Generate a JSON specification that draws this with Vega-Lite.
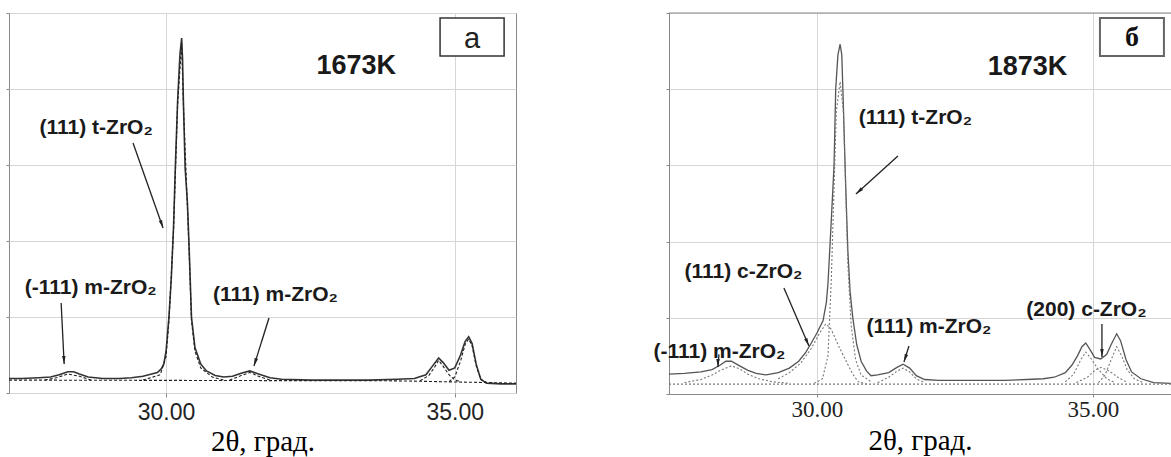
{
  "$schema": "https://vega.github.io/schema/vega-lite/v6.json",
  "padding": {"left": 5, "top": 12, "right": 0, "bottom": 0},
  "background": "white",
  "bounds": "flush",
  "spacing": 153,
  "config": {
    "view": {"stroke": "#888", "strokeWidth": 1},
    "axis": {"gridColor": "#d6d6d6", "tickColor": "#888", "domainColor": "#888"}
  },
  "datasets": {
    "spec1": [
      {"x": 27.28, "y": 0.19}, {"x": 27.5, "y": 0.19}, {"x": 27.8, "y": 0.2}, {"x": 28.0, "y": 0.21},
      {"x": 28.15, "y": 0.24}, {"x": 28.3, "y": 0.28}, {"x": 28.4, "y": 0.28}, {"x": 28.5, "y": 0.25},
      {"x": 28.65, "y": 0.21}, {"x": 28.9, "y": 0.19}, {"x": 29.2, "y": 0.19}, {"x": 29.4, "y": 0.2},
      {"x": 29.6, "y": 0.22}, {"x": 29.75, "y": 0.25}, {"x": 29.85, "y": 0.27}, {"x": 29.92, "y": 0.32},
      {"x": 29.96, "y": 0.38}, {"x": 30.0, "y": 0.55}, {"x": 30.05, "y": 1.0}, {"x": 30.09, "y": 1.5},
      {"x": 30.13, "y": 2.2}, {"x": 30.16, "y": 2.96}, {"x": 30.2, "y": 3.84}, {"x": 30.24, "y": 4.45},
      {"x": 30.27, "y": 4.67}, {"x": 30.285, "y": 4.4}, {"x": 30.3, "y": 3.84}, {"x": 30.33, "y": 2.96},
      {"x": 30.37, "y": 2.5}, {"x": 30.4, "y": 1.9}, {"x": 30.44, "y": 1.0}, {"x": 30.5, "y": 0.6},
      {"x": 30.6, "y": 0.38}, {"x": 30.7, "y": 0.29}, {"x": 30.85, "y": 0.23}, {"x": 31.0, "y": 0.21},
      {"x": 31.15, "y": 0.22}, {"x": 31.3, "y": 0.26}, {"x": 31.45, "y": 0.29}, {"x": 31.6, "y": 0.25},
      {"x": 31.8, "y": 0.2}, {"x": 32.0, "y": 0.18}, {"x": 32.5, "y": 0.17}, {"x": 33.0, "y": 0.17},
      {"x": 33.5, "y": 0.17}, {"x": 34.0, "y": 0.18}, {"x": 34.3, "y": 0.19}, {"x": 34.5, "y": 0.24},
      {"x": 34.62, "y": 0.36}, {"x": 34.72, "y": 0.46}, {"x": 34.8, "y": 0.4}, {"x": 34.9, "y": 0.3},
      {"x": 35.0, "y": 0.33}, {"x": 35.1, "y": 0.5}, {"x": 35.18, "y": 0.68}, {"x": 35.24, "y": 0.74},
      {"x": 35.3, "y": 0.65}, {"x": 35.37, "y": 0.38}, {"x": 35.45, "y": 0.18}, {"x": 35.55, "y": 0.13},
      {"x": 35.8, "y": 0.12}, {"x": 36.06, "y": 0.12}
    ],
    "fit1": [
      {"c": "base", "x": 27.28, "y": 0.17}, {"c": "base", "x": 34.0, "y": 0.16}, {"c": "base", "x": 36.06, "y": 0.13},
      {"c": "t", "x": 29.6, "y": 0.17}, {"c": "t", "x": 29.9, "y": 0.24}, {"c": "t", "x": 30.0, "y": 0.48},
      {"c": "t", "x": 30.05, "y": 0.95}, {"c": "t", "x": 30.13, "y": 2.15}, {"c": "t", "x": 30.2, "y": 3.8},
      {"c": "t", "x": 30.27, "y": 4.6}, {"c": "t", "x": 30.3, "y": 3.8}, {"c": "t", "x": 30.4, "y": 1.85},
      {"c": "t", "x": 30.44, "y": 0.95}, {"c": "t", "x": 30.5, "y": 0.55}, {"c": "t", "x": 30.6, "y": 0.33},
      {"c": "t", "x": 30.8, "y": 0.21}, {"c": "t", "x": 31.0, "y": 0.17},
      {"c": "m1", "x": 27.9, "y": 0.17}, {"c": "m1", "x": 28.1, "y": 0.2}, {"c": "m1", "x": 28.3, "y": 0.25},
      {"c": "m1", "x": 28.5, "y": 0.22}, {"c": "m1", "x": 28.7, "y": 0.17},
      {"c": "m2", "x": 31.1, "y": 0.17}, {"c": "m2", "x": 31.3, "y": 0.23}, {"c": "m2", "x": 31.45, "y": 0.27},
      {"c": "m2", "x": 31.6, "y": 0.22}, {"c": "m2", "x": 31.8, "y": 0.17},
      {"c": "p1", "x": 34.4, "y": 0.16}, {"c": "p1", "x": 34.55, "y": 0.23}, {"c": "p1", "x": 34.65, "y": 0.34},
      {"c": "p1", "x": 34.72, "y": 0.43}, {"c": "p1", "x": 34.8, "y": 0.35}, {"c": "p1", "x": 34.9, "y": 0.24},
      {"c": "p1", "x": 35.0, "y": 0.17}, {"c": "p1", "x": 35.1, "y": 0.15},
      {"c": "p2", "x": 34.9, "y": 0.15}, {"c": "p2", "x": 35.0, "y": 0.21}, {"c": "p2", "x": 35.1, "y": 0.42},
      {"c": "p2", "x": 35.18, "y": 0.64}, {"c": "p2", "x": 35.24, "y": 0.71}, {"c": "p2", "x": 35.3, "y": 0.62},
      {"c": "p2", "x": 35.37, "y": 0.36}, {"c": "p2", "x": 35.45, "y": 0.18}, {"c": "p2", "x": 35.55, "y": 0.14}
    ],
    "spec2": [
      {"x": 27.32, "y": 0.26}, {"x": 27.6, "y": 0.27}, {"x": 27.9, "y": 0.29}, {"x": 28.1, "y": 0.32},
      {"x": 28.25, "y": 0.38}, {"x": 28.35, "y": 0.43}, {"x": 28.45, "y": 0.43}, {"x": 28.6, "y": 0.37},
      {"x": 28.75, "y": 0.31}, {"x": 28.9, "y": 0.27}, {"x": 29.08, "y": 0.25}, {"x": 29.3, "y": 0.28},
      {"x": 29.5, "y": 0.34}, {"x": 29.67, "y": 0.43}, {"x": 29.8, "y": 0.55}, {"x": 29.89, "y": 0.66},
      {"x": 30.0, "y": 0.8}, {"x": 30.11, "y": 0.96}, {"x": 30.17, "y": 1.2}, {"x": 30.2, "y": 1.45},
      {"x": 30.25, "y": 2.14}, {"x": 30.31, "y": 3.0}, {"x": 30.34, "y": 4.0}, {"x": 30.38, "y": 4.45},
      {"x": 30.42, "y": 4.59}, {"x": 30.45, "y": 4.45}, {"x": 30.47, "y": 4.0}, {"x": 30.51, "y": 3.0},
      {"x": 30.53, "y": 2.53}, {"x": 30.56, "y": 1.88}, {"x": 30.6, "y": 1.35}, {"x": 30.65, "y": 1.0},
      {"x": 30.72, "y": 0.65}, {"x": 30.8, "y": 0.43}, {"x": 30.9, "y": 0.3}, {"x": 30.98, "y": 0.24},
      {"x": 31.1, "y": 0.25}, {"x": 31.3, "y": 0.28}, {"x": 31.45, "y": 0.35}, {"x": 31.56, "y": 0.39},
      {"x": 31.68, "y": 0.34}, {"x": 31.8, "y": 0.24}, {"x": 31.95, "y": 0.19}, {"x": 32.2, "y": 0.18},
      {"x": 32.6, "y": 0.18}, {"x": 33.0, "y": 0.18}, {"x": 33.4, "y": 0.18}, {"x": 33.8, "y": 0.19},
      {"x": 34.1, "y": 0.2}, {"x": 34.3, "y": 0.22}, {"x": 34.5, "y": 0.28}, {"x": 34.62, "y": 0.38},
      {"x": 34.72, "y": 0.5}, {"x": 34.8, "y": 0.62}, {"x": 34.87, "y": 0.67}, {"x": 34.95, "y": 0.58},
      {"x": 35.03, "y": 0.48}, {"x": 35.14, "y": 0.46}, {"x": 35.25, "y": 0.52}, {"x": 35.33, "y": 0.65},
      {"x": 35.43, "y": 0.79}, {"x": 35.5, "y": 0.7}, {"x": 35.6, "y": 0.45}, {"x": 35.7, "y": 0.29},
      {"x": 35.87, "y": 0.2}, {"x": 36.1, "y": 0.15}, {"x": 36.41, "y": 0.14}
    ],
    "fit2": [
      {"c": "base", "x": 27.32, "y": 0.13}, {"c": "base", "x": 36.41, "y": 0.13},
      {"c": "m1", "x": 27.6, "y": 0.15}, {"c": "m1", "x": 27.9, "y": 0.19}, {"c": "m1", "x": 28.1, "y": 0.25},
      {"c": "m1", "x": 28.25, "y": 0.31}, {"c": "m1", "x": 28.45, "y": 0.37}, {"c": "m1", "x": 28.6, "y": 0.33},
      {"c": "m1", "x": 28.75, "y": 0.26}, {"c": "m1", "x": 28.95, "y": 0.2}, {"c": "m1", "x": 29.2, "y": 0.16},
      {"c": "m1", "x": 29.5, "y": 0.14},
      {"c": "c1", "x": 29.3, "y": 0.2}, {"c": "c1", "x": 29.5, "y": 0.28}, {"c": "c1", "x": 29.7, "y": 0.4},
      {"c": "c1", "x": 29.9, "y": 0.6}, {"c": "c1", "x": 30.05, "y": 0.8}, {"c": "c1", "x": 30.16, "y": 0.92},
      {"c": "c1", "x": 30.25, "y": 0.86}, {"c": "c1", "x": 30.4, "y": 0.62}, {"c": "c1", "x": 30.55, "y": 0.4},
      {"c": "c1", "x": 30.65, "y": 0.26}, {"c": "c1", "x": 30.75, "y": 0.16}, {"c": "c1", "x": 30.9, "y": 0.13},
      {"c": "t", "x": 29.95, "y": 0.14}, {"c": "t", "x": 30.1, "y": 0.2}, {"c": "t", "x": 30.2, "y": 0.5},
      {"c": "t", "x": 30.26, "y": 1.5}, {"c": "t", "x": 30.31, "y": 2.7}, {"c": "t", "x": 30.35, "y": 3.7},
      {"c": "t", "x": 30.42, "y": 4.1}, {"c": "t", "x": 30.48, "y": 3.7}, {"c": "t", "x": 30.52, "y": 2.7},
      {"c": "t", "x": 30.56, "y": 1.7}, {"c": "t", "x": 30.62, "y": 0.9}, {"c": "t", "x": 30.7, "y": 0.45},
      {"c": "t", "x": 30.8, "y": 0.25}, {"c": "t", "x": 31.0, "y": 0.15},
      {"c": "m2", "x": 31.1, "y": 0.15}, {"c": "m2", "x": 31.3, "y": 0.22}, {"c": "m2", "x": 31.45, "y": 0.3},
      {"c": "m2", "x": 31.56, "y": 0.34}, {"c": "m2", "x": 31.68, "y": 0.29}, {"c": "m2", "x": 31.8, "y": 0.2},
      {"c": "m2", "x": 31.95, "y": 0.15},
      {"c": "p1", "x": 34.5, "y": 0.16}, {"c": "p1", "x": 34.65, "y": 0.26}, {"c": "p1", "x": 34.78, "y": 0.45},
      {"c": "p1", "x": 34.87, "y": 0.55}, {"c": "p1", "x": 34.95, "y": 0.48}, {"c": "p1", "x": 35.1, "y": 0.32},
      {"c": "p1", "x": 35.25, "y": 0.2}, {"c": "p1", "x": 35.4, "y": 0.15},
      {"c": "c2", "x": 34.7, "y": 0.15}, {"c": "c2", "x": 34.9, "y": 0.22}, {"c": "c2", "x": 35.05, "y": 0.32},
      {"c": "c2", "x": 35.15, "y": 0.35}, {"c": "c2", "x": 35.3, "y": 0.3}, {"c": "c2", "x": 35.45, "y": 0.22},
      {"c": "c2", "x": 35.6, "y": 0.16},
      {"c": "p3", "x": 35.1, "y": 0.15}, {"c": "p3", "x": 35.22, "y": 0.25}, {"c": "p3", "x": 35.33, "y": 0.45},
      {"c": "p3", "x": 35.43, "y": 0.62}, {"c": "p3", "x": 35.52, "y": 0.5}, {"c": "p3", "x": 35.62, "y": 0.32},
      {"c": "p3", "x": 35.75, "y": 0.2}, {"c": "p3", "x": 35.9, "y": 0.15}
    ],
    "arrows1": [
      {"x": 29.428, "y": 3.289, "x2": 29.948, "y2": 2.171, "a": 160.6},
      {"x": 28.183, "y": 1.184, "x2": 28.235, "y2": 0.382, "a": 177.2},
      {"x": 31.782, "y": 0.987, "x2": 31.522, "y2": 0.355, "a": 197.4}
    ],
    "arrows2": [
      {"x": 31.467, "y": 3.123, "x2": 30.707, "y2": 2.625, "a": 227.9},
      {"x": 29.402, "y": 1.391, "x2": 29.855, "y2": 0.63, "a": 156.7},
      {"x": 28.225, "y": 0.52, "x2": 28.207, "y2": 0.354, "a": 180},
      {"x": 31.667, "y": 0.63, "x2": 31.576, "y2": 0.42, "a": 198.4},
      {"x": 35.163, "y": 0.919, "x2": 35.163, "y2": 0.486, "a": 180}
    ],
    "labels1": [
      {"x": 28.789, "y": 3.408, "t": "(111) t-ZrO₂"},
      {"x": 28.694, "y": 1.303, "t": "(-111) m-ZrO₂"},
      {"x": 31.894, "y": 1.21, "t": "(111) m-ZrO₂"}
    ],
    "labels2": [
      {"x": 31.784, "y": 3.543, "t": "(111) t-ZrO₂"},
      {"x": 28.668, "y": 1.522, "t": "(111) c-ZrO₂"},
      {"x": 28.234, "y": 0.472, "t": "(-111) m-ZrO₂"},
      {"x": 32.029, "y": 0.8, "t": "(111) m-ZrO₂"},
      {"x": 34.882, "y": 1.024, "t": "(200) c-ZrO₂"}
    ],
    "temp1": [{"x": 33.294, "y": 4.197, "t": "1673K"}],
    "temp2": [{"x": 33.813, "y": 4.186, "t": "1873K"}],
    "box1": [{"x": 34.745, "x2": 35.854, "y": 4.934, "y2": 4.434}],
    "box2": [{"x": 35.127, "x2": 36.286, "y": 4.934, "y2": 4.436}],
    "tag1": [{"x": 35.3, "y": 4.54, "t": "a"}],
    "tag2": [{"x": 35.707, "y": 4.567, "t": "б"}],
    "one": [{}]
  },
  "hconcat": [
    {
      "width": 507,
      "height": 380,
      "layer": [
        {
          "data": {"name": "spec1"},
          "mark": {"type": "line", "color": "#333", "strokeWidth": 1.6},
          "encoding": {
            "x": {"field": "x", "type": "quantitative", "scale": {"domain": [27.28, 36.06], "nice": false, "zero": false},
              "axis": {"values": [30, 35], "format": ".2f", "labelFont": "Liberation Sans", "labelFontSize": 23, "labelColor": "#222",
                "grid": true, "tickSize": 4, "labelPadding": 4, "domain": false,
                "title": "2θ, град.", "titleFont": "Liberation Serif", "titleFontSize": 29, "titleFontWeight": "normal", "titleColor": "#000",
                "titleBaseline": "alphabetic", "titleY": 57}},
            "y": {"field": "y", "type": "quantitative", "scale": {"domain": [0, 5], "nice": false, "zero": false},
              "axis": {"values": [0, 1, 2, 3, 4, 5], "labels": false, "tickSize": 3, "domain": false, "grid": true, "title": null}}
          }
        },
        {
          "data": {"name": "fit1"},
          "mark": {"type": "line", "color": "#222", "strokeWidth": 1.1, "strokeDash": [3, 2]},
          "encoding": {
            "x": {"field": "x", "type": "quantitative", "scale": {"domain": [27.28, 36.06], "nice": false, "zero": false}},
            "y": {"field": "y", "type": "quantitative", "scale": {"domain": [0, 5], "nice": false, "zero": false}},
            "detail": {"field": "c"}
          }
        },
        {
          "data": {"name": "arrows1"},
          "mark": {"type": "rule", "color": "#222", "strokeWidth": 1.3},
          "encoding": {
            "x": {"field": "x", "type": "quantitative", "scale": {"domain": [27.28, 36.06], "nice": false, "zero": false}},
            "y": {"field": "y", "type": "quantitative", "scale": {"domain": [0, 5], "nice": false, "zero": false}},
            "x2": {"field": "x2"},
            "y2": {"field": "y2"}
          }
        },
        {
          "data": {"name": "arrows1"},
          "mark": {"type": "point", "shape": "M0,0L0.35,1.6L-0.35,1.6Z", "filled": true, "color": "#222", "size": 100, "opacity": 1},
          "encoding": {
            "x": {"field": "x2", "type": "quantitative", "scale": {"domain": [27.28, 36.06], "nice": false, "zero": false}},
            "y": {"field": "y2", "type": "quantitative", "scale": {"domain": [0, 5], "nice": false, "zero": false}},
            "angle": {"field": "a", "type": "quantitative", "scale": null}
          }
        },
        {
          "data": {"name": "labels1"},
          "mark": {"type": "text", "font": "Liberation Sans", "fontWeight": "bold", "fontSize": 21, "color": "#1a1a1a", "align": "center", "baseline": "alphabetic"},
          "encoding": {
            "x": {"field": "x", "type": "quantitative", "scale": {"domain": [27.28, 36.06], "nice": false, "zero": false}},
            "y": {"field": "y", "type": "quantitative", "scale": {"domain": [0, 5], "nice": false, "zero": false}},
            "text": {"field": "t"}
          }
        },
        {
          "data": {"name": "temp1"},
          "mark": {"type": "text", "font": "Liberation Sans", "fontWeight": "bold", "fontSize": 27, "color": "#1a1a1a", "align": "center", "baseline": "alphabetic"},
          "encoding": {
            "x": {"field": "x", "type": "quantitative", "scale": {"domain": [27.28, 36.06], "nice": false, "zero": false}},
            "y": {"field": "y", "type": "quantitative", "scale": {"domain": [0, 5], "nice": false, "zero": false}},
            "text": {"field": "t"}
          }
        },
        {
          "data": {"name": "box1"},
          "mark": {"type": "rect", "fill": "white", "stroke": "#333", "strokeWidth": 1.5},
          "encoding": {
            "x": {"field": "x", "type": "quantitative", "scale": {"domain": [27.28, 36.06], "nice": false, "zero": false}},
            "y": {"field": "y", "type": "quantitative", "scale": {"domain": [0, 5], "nice": false, "zero": false}},
            "x2": {"field": "x2"},
            "y2": {"field": "y2"}
          }
        },
        {
          "data": {"name": "tag1"},
          "mark": {"type": "text", "font": "Liberation Sans", "fontSize": 29, "color": "#222", "align": "center", "baseline": "alphabetic"},
          "encoding": {
            "x": {"field": "x", "type": "quantitative", "scale": {"domain": [27.28, 36.06], "nice": false, "zero": false}},
            "y": {"field": "y", "type": "quantitative", "scale": {"domain": [0, 5], "nice": false, "zero": false}},
            "text": {"field": "t"}
          }
        }
      ]
    },
    {
      "width": 502,
      "height": 381,
      "view": {"stroke": null},
      "layer": [
        {
          "data": {"name": "spec2"},
          "mark": {"type": "line", "color": "#555", "strokeWidth": 1.3},
          "encoding": {
            "x": {"field": "x", "type": "quantitative", "scale": {"domain": [27.32, 36.414], "nice": false, "zero": false},
              "axis": {"values": [30, 35], "format": ".2f", "labelFont": "Liberation Serif", "labelFontSize": 23, "labelColor": "#222",
                "grid": true, "tickSize": 3, "labelPadding": 1, "domain": true,
                "title": "2θ, град.", "titleFont": "Liberation Serif", "titleFontSize": 29, "titleFontWeight": "normal", "titleColor": "#000",
                "titleBaseline": "alphabetic", "titleY": 55}},
            "y": {"field": "y", "type": "quantitative", "scale": {"domain": [0, 5], "nice": false, "zero": false},
              "axis": {"values": [0, 1, 2, 3, 4, 5], "labels": false, "tickSize": 3, "domain": true, "grid": true, "title": null}}
          }
        },
        {
          "data": {"name": "one"},
          "mark": {"type": "rule", "color": "#888", "strokeWidth": 1},
          "encoding": {"y": {"datum": 5, "type": "quantitative", "scale": {"domain": [0, 5], "nice": false, "zero": false}}}
        },
        {
          "data": {"name": "fit2"},
          "mark": {"type": "line", "color": "#777", "strokeWidth": 1.1, "strokeDash": [2, 2]},
          "encoding": {
            "x": {"field": "x", "type": "quantitative", "scale": {"domain": [27.32, 36.414], "nice": false, "zero": false}},
            "y": {"field": "y", "type": "quantitative", "scale": {"domain": [0, 5], "nice": false, "zero": false}},
            "detail": {"field": "c"}
          }
        },
        {
          "data": {"name": "arrows2"},
          "mark": {"type": "rule", "color": "#222", "strokeWidth": 1.3},
          "encoding": {
            "x": {"field": "x", "type": "quantitative", "scale": {"domain": [27.32, 36.414], "nice": false, "zero": false}},
            "y": {"field": "y", "type": "quantitative", "scale": {"domain": [0, 5], "nice": false, "zero": false}},
            "x2": {"field": "x2"},
            "y2": {"field": "y2"}
          }
        },
        {
          "data": {"name": "arrows2"},
          "mark": {"type": "point", "shape": "M0,0L0.35,1.6L-0.35,1.6Z", "filled": true, "color": "#222", "size": 100, "opacity": 1},
          "encoding": {
            "x": {"field": "x2", "type": "quantitative", "scale": {"domain": [27.32, 36.414], "nice": false, "zero": false}},
            "y": {"field": "y2", "type": "quantitative", "scale": {"domain": [0, 5], "nice": false, "zero": false}},
            "angle": {"field": "a", "type": "quantitative", "scale": null}
          }
        },
        {
          "data": {"name": "labels2"},
          "mark": {"type": "text", "font": "Liberation Sans", "fontWeight": "bold", "fontSize": 21, "color": "#1a1a1a", "align": "center", "baseline": "alphabetic"},
          "encoding": {
            "x": {"field": "x", "type": "quantitative", "scale": {"domain": [27.32, 36.414], "nice": false, "zero": false}},
            "y": {"field": "y", "type": "quantitative", "scale": {"domain": [0, 5], "nice": false, "zero": false}},
            "text": {"field": "t"}
          }
        },
        {
          "data": {"name": "temp2"},
          "mark": {"type": "text", "font": "Liberation Sans", "fontWeight": "bold", "fontSize": 27, "color": "#1a1a1a", "align": "center", "baseline": "alphabetic"},
          "encoding": {
            "x": {"field": "x", "type": "quantitative", "scale": {"domain": [27.32, 36.414], "nice": false, "zero": false}},
            "y": {"field": "y", "type": "quantitative", "scale": {"domain": [0, 5], "nice": false, "zero": false}},
            "text": {"field": "t"}
          }
        },
        {
          "data": {"name": "box2"},
          "mark": {"type": "rect", "fill": "white", "stroke": "#666", "strokeWidth": 2},
          "encoding": {
            "x": {"field": "x", "type": "quantitative", "scale": {"domain": [27.32, 36.414], "nice": false, "zero": false}},
            "y": {"field": "y", "type": "quantitative", "scale": {"domain": [0, 5], "nice": false, "zero": false}},
            "x2": {"field": "x2"},
            "y2": {"field": "y2"}
          }
        },
        {
          "data": {"name": "tag2"},
          "mark": {"type": "text", "font": "Liberation Serif", "fontWeight": "bold", "fontSize": 28, "color": "#111", "align": "center", "baseline": "alphabetic"},
          "encoding": {
            "x": {"field": "x", "type": "quantitative", "scale": {"domain": [27.32, 36.414], "nice": false, "zero": false}},
            "y": {"field": "y", "type": "quantitative", "scale": {"domain": [0, 5], "nice": false, "zero": false}},
            "text": {"field": "t"}
          }
        }
      ]
    }
  ]
}
